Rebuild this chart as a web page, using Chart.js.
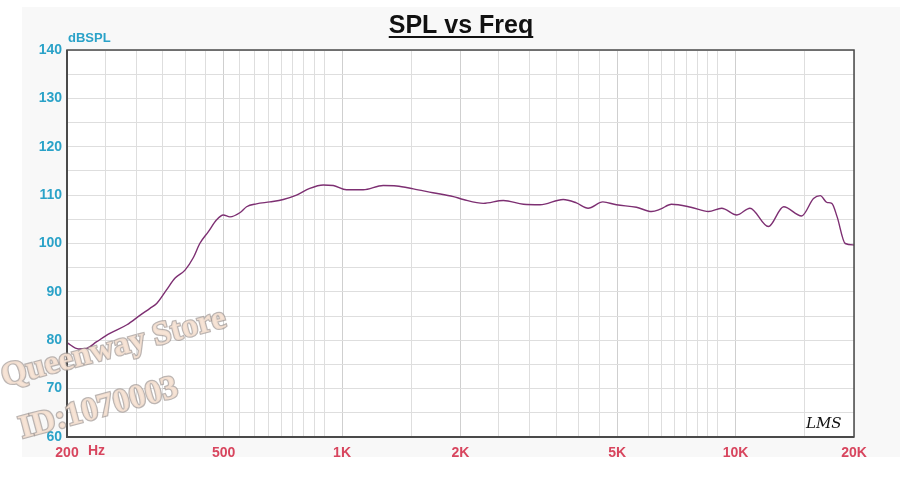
<!DOCTYPE html>
<html>
<head>
<meta charset="utf-8">
<script src="https://cdn.jsdelivr.net/npm/chart.js@4/dist/chart.umd.min.js"></script>
<style>
  html, body { margin: 0; padding: 0; background: #fff; }
  canvas { display: block; }
</style>
</head>
<body>
<canvas id="splChart" width="919" height="488"></canvas>
<script>
var freqHz = [200,214,224,238,257,284,307,325,338,358,376,399,419,435,457,480,499,519,551,572,
  606,656,709,766,828,896,950,1026,1132,1272,1376,1518,1702,1918,2033,2286,2570,2890,3184,3648,
  3940,4220,4600,4980,5600,6120,6440,6870,7700,8540,9220,10080,10880,12120,13250,14720,15780,
  16420,17060,17560,18120,19000,20000];
var splDb = [79.5,78.2,78.3,79.7,81.4,83.2,85.2,86.6,87.6,90.4,92.8,94.5,97.1,100.0,102.4,104.9,105.9,105.5,106.4,107.6,
  108.2,108.6,109.1,110.0,111.4,112.1,112.0,111.1,111.1,112.0,111.9,111.3,110.5,109.7,109.1,108.3,108.9,108.1,108.0,109.1,
  108.4,107.3,108.6,108.0,107.5,106.6,107.1,108.1,107.5,106.6,107.3,105.9,107.3,103.5,107.6,105.7,109.3,
  109.9,108.5,108.3,105.5,100.0,99.7];

// x grid lines and the ones that get a label
var gridHz = [200,250,300,350,400,450,500,550,600,650,700,750,800,850,900,1000,1500,
  2000,2500,3000,3500,4000,4500,5000,6000,6500,7000,7500,8000,8500,9000,10000,15000,20000];
var xLabelHz = [200, 500, 1000, 2000, 5000, 10000, 20000];
var xLabels = ['200', '500', '1K', '2K', '5K', '10K', '20K'];

var FONT = 'Liberation Sans, Arial, sans-serif';

var pts = freqHz.map(function(f, i) { return { x: f, y: splDb[i] }; });

var decorPlugin = {
  id: 'decor',
  beforeDraw: function(chart) {
    var c = chart.ctx, a = chart.chartArea;
    c.save();
    c.fillStyle = '#f8f8f8';
    c.fillRect(22, 7, 878, 450);
    c.fillStyle = '#ffffff';
    c.fillRect(a.left, a.top, a.right - a.left, a.bottom - a.top);
    c.restore();
  },
  afterDraw: function(chart) {
    var c = chart.ctx, a = chart.chartArea;
    c.save();
    // frame
    c.strokeStyle = '#4a4a4a';
    c.lineWidth = 1.5;
    c.strokeRect(a.left, a.top, a.right - a.left, a.bottom - a.top);
    c.lineWidth = 2;
    c.beginPath();
    c.moveTo(a.left, a.top); c.lineTo(a.left, a.bottom); c.lineTo(a.right, a.bottom);
    c.stroke();

    // title
    c.fillStyle = '#111';
    c.font = 'bold 25px ' + FONT;
    c.textAlign = 'center';
    c.textBaseline = 'alphabetic';
    var t = 'SPL vs Freq';
    c.fillText(t, 461, 33);
    var w = c.measureText(t).width;
    c.fillRect(461 - w / 2, 36, w, 2);

    // axis unit labels
    c.fillStyle = '#2aa2c8';
    c.font = 'bold 13px ' + FONT;
    c.textAlign = 'left';
    c.textBaseline = 'middle';
    c.fillText('dBSPL', 68, 38);
    c.fillStyle = '#d8455e';
    c.font = 'bold 14px ' + FONT;
    c.fillText('Hz', 88, 451);

    // signature
    c.fillStyle = '#111';
    c.font = 'italic 15px DejaVu Serif, serif';
    c.fillText('LMS', 806, 424);

    // watermark
    c.font = 'bold 33px Liberation Serif, Times New Roman, serif';
    c.lineWidth = 2.5;
    c.strokeStyle = 'rgba(160,150,145,0.7)';
    c.fillStyle = 'rgba(246,226,210,0.92)';
    [['Queenway Store', 2, 378], ['ID:1070003', 20, 430]].forEach(function(m) {
      c.save();
      c.translate(m[1], m[2]);
      c.rotate(-15 * Math.PI / 180);
      c.strokeText(m[0], 0, 0);
      c.fillText(m[0], 0, 0);
      c.restore();
    });
    c.restore();
  }
};

var ctx = document.getElementById('splChart').getContext('2d');
var splChart = new Chart(ctx, {
  type: 'line',
  data: {
    datasets: [{
      label: 'SPL',
      data: pts,
      borderColor: '#7d2f72',
      borderWidth: 1.4,
      pointRadius: 0,
      fill: false,
      cubicInterpolationMode: 'monotone'
    }]
  },
  options: {
    responsive: false,
    animation: false,
    layout: { padding: { left: 22, right: 65, top: 50, bottom: 21 } },
    plugins: { legend: { display: false }, tooltip: { enabled: false } },
    scales: {
      x: {
        type: 'logarithmic',
        min: 200,
        max: 20000,
        afterBuildTicks: function(scale) {
          scale.ticks = gridHz.map(function(v) { return { value: v }; });
        },
        afterFit: function(scale) { scale.height = 30; },
        border: { display: false },
        grid: {
          drawTicks: false,
          color: function(c) {
            return xLabelHz.indexOf(c.tick && c.tick.value) >= 0 ? '#cfcfcf' : '#dedede';
          }
        },
        ticks: {
          autoSkip: false,
          maxRotation: 0,
          padding: 8,
          color: '#d8455e',
          font: { family: FONT, size: 14, weight: 'bold' },
          callback: function(v) {
            var i = xLabelHz.indexOf(v);
            return i >= 0 ? xLabels[i] : '';
          }
        }
      },
      y: {
        min: 60,
        max: 140,
        afterFit: function(scale) { scale.width = 45; },
        border: { display: false },
        grid: { drawTicks: false, color: '#dedede' },
        ticks: {
          stepSize: 5,
          padding: 5,
          color: '#2aa2c8',
          font: { family: FONT, size: 14, weight: 'bold' },
          callback: function(v) { return v % 10 === 0 ? v : ''; }
        }
      }
    }
  },
  plugins: [decorPlugin]
});
</script>
</body>
</html>
